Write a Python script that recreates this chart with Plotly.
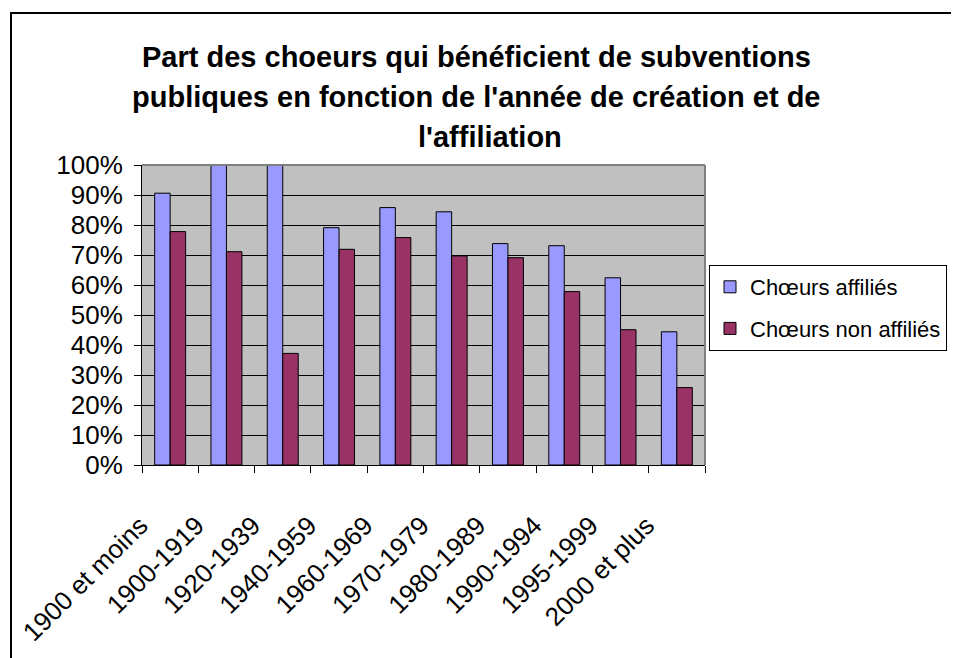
import plotly.graph_objects as go

categories = ["1900 et moins", "1900-1919", "1920-1939", "1940-1959", "1960-1969",
              "1970-1979", "1980-1989", "1990-1994", "1995-1999", "2000 et plus"]
affilies = [90.6, 100, 100, 79.1, 85.8, 84.4, 73.8, 73.1, 62.4, 44.4]
non_affilies = [77.8, 71.1, 37.2, 71.9, 75.8, 69.7, 69.1, 57.8, 45.1, 25.8]
series_names = ["Chœurs affiliés", "Chœurs non affiliés"]
title_lines = ["Part des choeurs qui bénéficient de subventions",
               "publiques en fonction de l'année de création et de",
               "l'affiliation"]

FONT = "Liberation Sans, Arial, sans-serif"

fig = go.Figure()
fig.add_trace(go.Bar(x=categories, y=affilies, name=series_names[0],
                     marker=dict(color="#9999FF", line=dict(color="black", width=1)),
                     legendgroup="a"))
fig.add_trace(go.Bar(x=categories, y=non_affilies, name=series_names[1],
                     marker=dict(color="#993366", line=dict(color="black", width=1)),
                     legendgroup="b"))

# page has an 8px body margin; figure coordinates = page coordinates - 8
OFF = 8
W, H = 959 - OFF, 658 - OFF
L, R, T, B = 142 - OFF, 705 - OFF, 165 - OFF, 465 - OFF
pw, ph = R - L, B - T

def px(x):  # page x -> paper
    return (x - OFF - L) / pw

def py(y):  # page y -> paper
    return (B - (y - OFF)) / ph

fig.update_layout(
    width=W, height=H,
    margin=dict(l=L, r=W - R, t=T, b=H - B, pad=0, autoexpand=False),
    paper_bgcolor="white",
    plot_bgcolor="#C0C0C0",
    barmode="group",
    bargap=0.45,
    bargroupgap=0,
    font=dict(family=FONT, color="black", size=26),
    showlegend=True,
    legend=dict(
        xref="container", yref="container",
        x=(709 - OFF) / W, y=1 - (265 - OFF) / H, xanchor="left", yanchor="top",
        bgcolor="white", bordercolor="black", borderwidth=1,
        font=dict(family=FONT, size=22, color="black"),
        traceorder="grouped", tracegroupgap=10,
    ),
    xaxis=dict(
        type="category",
        showline=True, linecolor="black", linewidth=1,
        ticks="outside", tickson="boundaries", ticklen=7, tickcolor="black",
        tickangle=-45,
        tickfont=dict(family=FONT, size=26, color="black"),
        ticklabelstandoff=34,
        ticklabelshift=-30,
        showgrid=False,
        automargin=False,
    ),
    yaxis=dict(
        range=[0, 100], dtick=10, ticksuffix="%",
        showline=True, linecolor="black", linewidth=1,
        ticks="outside", ticklen=7, tickcolor="black",
        tickfont=dict(family=FONT, size=26, color="black"),
        showgrid=True, gridcolor="black", gridwidth=1,
        zeroline=False,
        ticklabelstandoff=6,
        automargin=False,
    ),
    shapes=[
        # outer chart frame
        dict(type="rect", xref="paper", yref="paper",
             x0=px(11), x1=px(975), y0=py(13), y1=py(680),
             line=dict(color="black", width=2), layer="below"),
        # plot area border (top and right, grey)
        dict(type="line", xref="paper", yref="paper", x0=0, x1=1, y0=1, y1=1,
             line=dict(color="#808080", width=2), layer="above"),
        dict(type="line", xref="paper", yref="paper", x0=1, x1=1, y0=0, y1=1,
             line=dict(color="#808080", width=2), layer="above"),
    ],
    annotations=[
        dict(text="<b>%s</b>" % title_lines[0], xref="paper", yref="paper",
             x=px(476), y=py(57), showarrow=False, xanchor="center", yanchor="middle",
             font=dict(family=FONT, size=29, color="black")),
        dict(text="<b>%s</b>" % title_lines[1], xref="paper", yref="paper",
             x=px(476), y=py(97), showarrow=False, xanchor="center", yanchor="middle",
             font=dict(family=FONT, size=29, color="black")),
        dict(text="<b>%s</b>" % title_lines[2], xref="paper", yref="paper",
             x=px(490), y=py(137), showarrow=False, xanchor="center", yanchor="middle",
             font=dict(family=FONT, size=29, color="black")),
    ],
)

fig.write_html("out.html")
